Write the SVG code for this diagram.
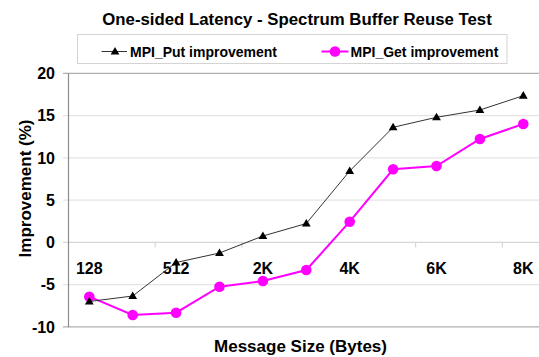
<svg xmlns="http://www.w3.org/2000/svg" width="539" height="357" viewBox="0 0 539 357">
  <style>
    text { font-family: "Liberation Sans", Arial, sans-serif; font-weight: bold; fill: #000; }
    .title { font-size: 16.8px; }
    .legend { font-size: 14px; }
    .ytick { font-size: 16px; text-anchor: end; }
    .xtick { font-size: 16px; text-anchor: middle; }
    .axis-title { font-size: 17px; text-anchor: middle; }
    .grid { stroke: #e4e4e4; stroke-width: 1.2; }
    .frame { stroke: #9a9a9a; stroke-width: 1.2; fill: none; }
    .put-line { fill: none; stroke: #333; stroke-width: 1; }
    .get-line { fill: none; stroke: #ff00ff; stroke-width: 2; }
    .put-mark { fill: #000; }
    .get-mark { fill: #ff00ff; }
  </style>
  <defs>
    <path id="tri" d="M0,-4.6 L4.4,3 L-4.4,3 Z"/>
    <circle id="dot" r="5.3"/>
  </defs>

  <rect width="539" height="357" fill="#fff"/>

  <!-- title -->
  <text class="title" x="297" y="25" text-anchor="middle">One-sided Latency - Spectrum Buffer Reuse Test</text>

  <!-- legend -->
  <g id="legend">
    <rect x="77.5" y="34.5" width="429.5" height="29" fill="#fff" stroke="#d4d4d4" stroke-width="1"/>
    <line x1="101.5" y1="51.5" x2="127" y2="51.5" stroke="#333" stroke-width="1"/>
    <use href="#tri" class="put-mark" x="115" y="51.5"/>
    <text class="legend" x="130" y="56.5">MPI_Put improvement</text>
    <line x1="321.5" y1="51.5" x2="348.5" y2="51.5" stroke="#ff00ff" stroke-width="2"/>
    <use href="#dot" class="get-mark" x="335" y="51.5"/>
    <text class="legend" x="350.5" y="56.5">MPI_Get improvement</text>
  </g>

  <!-- plot area: gridlines, axes, ticks -->
  <g id="axes">
    <line class="grid" x1="63" y1="115.6" x2="539" y2="115.6"/>
    <line class="grid" x1="63" y1="157.9" x2="539" y2="157.9"/>
    <line class="grid" x1="63" y1="200.2" x2="539" y2="200.2"/>
    <line class="grid" x1="63" y1="284.7" x2="539" y2="284.7"/>
    <line x1="63" y1="242.4" x2="539" y2="242.4" stroke="#d6d6d6" stroke-width="1.2"/>
    <line x1="63" y1="73.3" x2="539" y2="73.3" stroke="#b0b0b0" stroke-width="1.2"/>
    <line x1="63" y1="326.8" x2="539" y2="326.8" stroke="#b0b0b0" stroke-width="1.2"/>
    <line x1="68.5" y1="73.3" x2="68.5" y2="327.3" stroke="#8c8c8c" stroke-width="1.2"/>
    <!-- category ticks on the zero line -->
    <g stroke="#d6d6d6" stroke-width="1.2">
      <line x1="155.2" y1="242.4" x2="155.2" y2="247.5"/>
      <line x1="242" y1="242.4" x2="242" y2="247.5"/>
      <line x1="328.8" y1="242.4" x2="328.8" y2="247.5"/>
      <line x1="415.6" y1="242.4" x2="415.6" y2="247.5"/>
      <line x1="502.4" y1="242.4" x2="502.4" y2="247.5"/>
    </g>
  </g>

  <!-- value axis labels -->
  <g id="y-labels">
    <text class="ytick" x="55" y="79">20</text>
    <text class="ytick" x="55" y="121.3">15</text>
    <text class="ytick" x="55" y="163.6">10</text>
    <text class="ytick" x="55" y="205.9">5</text>
    <text class="ytick" x="55" y="248.1">0</text>
    <text class="ytick" x="55" y="290.4">-5</text>
    <text class="ytick" x="55" y="332.7">-10</text>
  </g>

  <!-- category labels -->
  <g id="x-labels">
    <text class="xtick" x="89.3" y="274">128</text>
    <text class="xtick" x="176.1" y="274">512</text>
    <text class="xtick" x="262.9" y="274">2K</text>
    <text class="xtick" x="349.7" y="274">4K</text>
    <text class="xtick" x="436.5" y="274">6K</text>
    <text class="xtick" x="523.3" y="274">8K</text>
  </g>

  <!-- axis titles -->
  <text class="axis-title" x="300.5" y="352">Message Size (Bytes)</text>
  <text class="axis-title" transform="translate(31,188.5) rotate(-90)">Improvement (%)</text>

  <!-- data series -->
  <g id="series-get">
    <polyline class="get-line" points="89.3,296.7 132.7,315 176.1,312.7 219.5,286.7 262.9,281 306.3,270 349.7,221.7 393.1,169.3 436.5,166 479.9,139 523.3,124"/>
    <g class="get-mark">
      <use href="#dot" x="89.3" y="296.7"/>
      <use href="#dot" x="132.7" y="315"/>
      <use href="#dot" x="176.1" y="312.7"/>
      <use href="#dot" x="219.5" y="286.7"/>
      <use href="#dot" x="262.9" y="281"/>
      <use href="#dot" x="306.3" y="270"/>
      <use href="#dot" x="349.7" y="221.7"/>
      <use href="#dot" x="393.1" y="169.3"/>
      <use href="#dot" x="436.5" y="166"/>
      <use href="#dot" x="479.9" y="139"/>
      <use href="#dot" x="523.3" y="124"/>
    </g>
  </g>
  <g id="series-put">
    <polyline class="put-line" points="89.3,301.5 132.7,296 176.1,262.5 219.5,253 262.9,236 306.3,223.5 349.7,171 393.1,127.3 436.5,117.3 479.9,110 523.3,95.7"/>
    <g class="put-mark">
      <use href="#tri" x="89.3" y="301.5"/>
      <use href="#tri" x="132.7" y="296"/>
      <use href="#tri" x="176.1" y="262.5"/>
      <use href="#tri" x="219.5" y="253"/>
      <use href="#tri" x="262.9" y="236"/>
      <use href="#tri" x="306.3" y="223.5"/>
      <use href="#tri" x="349.7" y="171"/>
      <use href="#tri" x="393.1" y="127.3"/>
      <use href="#tri" x="436.5" y="117.3"/>
      <use href="#tri" x="479.9" y="110"/>
      <use href="#tri" x="523.3" y="95.7"/>
    </g>
  </g>
</svg>
